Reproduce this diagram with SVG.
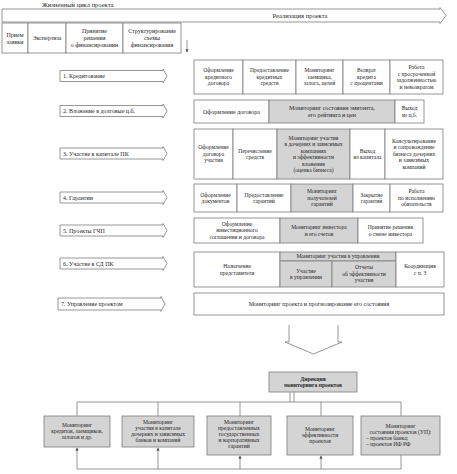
<svg xmlns="http://www.w3.org/2000/svg" width="457" height="474" viewBox="0 0 457 474">
<defs>
<style>
.bx{fill:#fff;stroke:#7c7c7c;stroke-width:0.8}
.gy{fill:#d4d4d4;stroke:#7c7c7c;stroke-width:0.8}
.ar{fill:#fff;stroke:#7c7c7c;stroke-width:0.8}
.ln{fill:none;stroke:#7c7c7c;stroke-width:0.8}
text{font-family:"Liberation Serif","Times New Roman",serif;fill:#262626}
.t{font-size:5.6px;text-anchor:middle}
.m{font-size:6px;text-anchor:middle}
.l{font-size:6px}
.h{font-size:6.5px}
.bd{font-size:5.6px;text-anchor:middle;font-weight:bold}
</style>
<marker id="ah" viewBox="0 0 6 6" refX="5" refY="3" markerWidth="4" markerHeight="4" orient="auto">
<path d="M0,0 L6,3 L0,6 Z" fill="#555"/>
</marker>
</defs>
<rect width="457" height="474" fill="#fff"/>

<g id="lifecycle">
<text class="h" x="42" y="7">Жизненный цикл проекта</text>
<polygon class="ar" points="2,9 440,9 440,7.5 446,15.5 440,23.5 440,22 2,22"/>
<text class="h" x="300" y="17.5" text-anchor="middle">Реализация проекта</text>
</g>

<g id="stages">
<rect class="bx" x="2" y="23" width="26" height="30"/>
<text class="m" x="15" y="36.6"><tspan x="15">Прием</tspan><tspan x="15" dy="7">заявки</tspan></text>
<rect class="bx" x="28" y="23" width="38" height="30"/>
<text class="m" x="47" y="40.1">Экспертиза</text>
<rect class="bx" x="66" y="23" width="57" height="30"/>
<text class="m" x="94.5" y="33.1"><tspan x="94.5">Принятие</tspan><tspan x="94.5" dy="7">решения</tspan><tspan x="94.5" dy="7">о финансировании</tspan></text>
<rect class="bx" x="123" y="23" width="58" height="30"/>
<text class="m" x="152" y="33.1"><tspan x="152">Структурирование</tspan><tspan x="152" dy="7">схемы</tspan><tspan x="152" dy="7">финансирования</tspan></text>
</g>

<g id="connectors">
<line class="ln" x1="187" y1="40" x2="187" y2="52" marker-end="url(#ah)"/>
<polyline class="ln" points="289,325 289,342 285,342 313.5,354 342,342 338,342 338,325"/>
<line class="ln" x1="290" y1="392" x2="290" y2="402"/>
<line class="ln" x1="294" y1="392" x2="294" y2="402"/>
<line class="ln" x1="77" y1="402" x2="401" y2="402"/>
<line class="ln" x1="77" y1="402" x2="77" y2="416"/>
<line class="ln" x1="158" y1="402" x2="158" y2="416"/>
<line class="ln" x1="240" y1="402" x2="240" y2="416"/>
<line class="ln" x1="321" y1="402" x2="321" y2="416"/>
<line class="ln" x1="401" y1="402" x2="401" y2="416"/>
<line class="ln" x1="77" y1="469" x2="401" y2="469"/>
<line class="ln" x1="77" y1="469" x2="77" y2="448" marker-end="url(#ah)"/>
<line class="ln" x1="158" y1="469" x2="158" y2="448" marker-end="url(#ah)"/>
<line class="ln" x1="240" y1="469" x2="240" y2="456" marker-end="url(#ah)"/>
<line class="ln" x1="321" y1="469" x2="321" y2="456" marker-end="url(#ah)"/>
<line class="ln" x1="401" y1="469" x2="401" y2="455"/>
</g>

<g id="row1">
<polygon class="ar" points="60,70.5 163,70.5 163,69 167,76 163,83 163,81.5 60,81.5"/>
<text class="l" x="63" y="78.1">1. Кредитование</text>
<rect class="bx" x="194" y="60" width="49" height="34"/>
<text class="t" x="218.5" y="72.4"><tspan x="218.5">Оформление</tspan><tspan x="218.5" dy="6.5">кредитного</tspan><tspan x="218.5" dy="6.5">договора</tspan></text>
<rect class="bx" x="243" y="60" width="53" height="34"/>
<text class="t" x="269.5" y="72.4"><tspan x="269.5">Предоставление</tspan><tspan x="269.5" dy="6.5">кредитных</tspan><tspan x="269.5" dy="6.5">средств</tspan></text>
<rect class="bx" x="296" y="60" width="47" height="34"/>
<text class="t" x="319.5" y="72.4"><tspan x="319.5">Мониторинг</tspan><tspan x="319.5" dy="6.5">заемщика,</tspan><tspan x="319.5" dy="6.5">залога, целей</tspan></text>
<rect class="bx" x="343" y="60" width="47" height="34"/>
<text class="t" x="366.5" y="72.4"><tspan x="366.5">Возврат</tspan><tspan x="366.5" dy="6.5">кредита</tspan><tspan x="366.5" dy="6.5">с процентами</tspan></text>
<rect class="bx" x="390" y="60" width="53" height="34"/>
<text class="t" x="416.5" y="69.15"><tspan x="416.5">Работа</tspan><tspan x="416.5" dy="6.5">с просроченной</tspan><tspan x="416.5" dy="6.5">задолженностью</tspan><tspan x="416.5" dy="6.5">и невозвратом</tspan></text>
</g>

<g id="row2">
<polygon class="ar" points="60,105.5 163,105.5 163,104 167,111 163,118 163,116.5 60,116.5"/>
<text class="l" x="63" y="113.1">2. Вложение в долговые ц.б.</text>
<rect class="bx" x="194" y="100" width="75" height="23"/>
<text class="m" x="231.5" y="113.6">Оформление договора</text>
<rect class="gy" x="269" y="100" width="126" height="23"/>
<text class="m" x="332" y="110.4"><tspan x="332">Мониторинг состояния эмитента,</tspan><tspan x="332" dy="6.5">его рейтинга и цен</tspan></text>
<rect class="bx" x="395" y="100" width="29" height="23"/>
<text class="t" x="409.5" y="110.4"><tspan x="409.5">Выход</tspan><tspan x="409.5" dy="6.5">из ц.б.</tspan></text>
</g>

<g id="row3">
<polygon class="ar" points="60,148 163,148 163,146.5 167,153.5 163,160.5 163,159 60,159"/>
<text class="l" x="63" y="155.6">3. Участие в капитале ПК</text>
<rect class="bx" x="194" y="129" width="39" height="50"/>
<text class="t" x="213.5" y="149.4"><tspan x="213.5">Оформление</tspan><tspan x="213.5" dy="6.5">договора</tspan><tspan x="213.5" dy="6.5">участия</tspan></text>
<rect class="bx" x="233" y="129" width="44" height="50"/>
<text class="t" x="255" y="152.65"><tspan x="255">Перечисление</tspan><tspan x="255" dy="6.5">средств</tspan></text>
<rect class="gy" x="277" y="129" width="73" height="50"/>
<text class="t" x="313.5" y="139.65"><tspan x="313.5">Мониторинг участия</tspan><tspan x="313.5" dy="6.5">в дочерних и зависимых</tspan><tspan x="313.5" dy="6.5">компаниях</tspan><tspan x="313.5" dy="6.5">и эффективности</tspan><tspan x="313.5" dy="6.5">вложения</tspan><tspan x="313.5" dy="6.5">(оценка бизнеса)</tspan></text>
<rect class="bx" x="350" y="129" width="35" height="50"/>
<text class="t" x="367.5" y="152.65"><tspan x="367.5">Выход</tspan><tspan x="367.5" dy="6.5">из капитала</tspan></text>
<rect class="bx" x="385" y="129" width="58" height="50"/>
<text class="t" x="414" y="142.9"><tspan x="414">Консультирование</tspan><tspan x="414" dy="6.5">и сопровождение</tspan><tspan x="414" dy="6.5">бизнеса дочерних</tspan><tspan x="414" dy="6.5">и зависимых</tspan><tspan x="414" dy="6.5">компаний</tspan></text>
</g>

<g id="row4">
<polygon class="ar" points="60,192 163,192 163,190.5 167,197.5 163,204.5 163,203 60,203"/>
<text class="l" x="63" y="199.6">4. Гарантии</text>
<rect class="bx" x="194" y="184" width="43" height="28"/>
<text class="t" x="215.5" y="196.65"><tspan x="215.5">Оформление</tspan><tspan x="215.5" dy="6.5">документов</tspan></text>
<rect class="bx" x="237" y="184" width="54" height="28"/>
<text class="t" x="264" y="196.65"><tspan x="264">Предоставление</tspan><tspan x="264" dy="6.5">гарантий</tspan></text>
<rect class="gy" x="291" y="184" width="62" height="28"/>
<text class="t" x="322" y="193.4"><tspan x="322">Мониторинг</tspan><tspan x="322" dy="6.5">получателей</tspan><tspan x="322" dy="6.5">гарантий</tspan></text>
<rect class="bx" x="353" y="184" width="37" height="28"/>
<text class="t" x="371.5" y="196.65"><tspan x="371.5">Закрытие</tspan><tspan x="371.5" dy="6.5">гарантий</tspan></text>
<rect class="bx" x="390" y="184" width="53" height="28"/>
<text class="t" x="416.5" y="193.4"><tspan x="416.5">Работа</tspan><tspan x="416.5" dy="6.5">по исполнению</tspan><tspan x="416.5" dy="6.5">обязательств</tspan></text>
</g>

<g id="row5">
<polygon class="ar" points="60,225 163,225 163,223.5 167,230.5 163,237.5 163,236 60,236"/>
<text class="l" x="63" y="232.6">5. Проекты ГЧП</text>
<rect class="bx" x="194" y="218" width="86" height="25"/>
<text class="t" x="237" y="225.9"><tspan x="237">Оформление</tspan><tspan x="237" dy="6.5">инвестиционного</tspan><tspan x="237" dy="6.5">соглашения и договора</tspan></text>
<rect class="gy" x="280" y="218" width="78" height="25"/>
<text class="t" x="319" y="229.15"><tspan x="319">Мониторинг инвестора</tspan><tspan x="319" dy="6.5">и его счетов</tspan></text>
<rect class="bx" x="358" y="218" width="65" height="25"/>
<text class="t" x="390.5" y="229.15"><tspan x="390.5">Принятие решения</tspan><tspan x="390.5" dy="6.5">о смене инвестора</tspan></text>
</g>

<g id="row6">
<polygon class="ar" points="60,258 163,258 163,256.5 167,263.5 163,270.5 163,269 60,269"/>
<text class="l" x="63" y="265.6">6. Участие в СД ПК</text>
<rect class="bx" x="194" y="252" width="86" height="35"/>
<text class="t" x="237" y="268.15"><tspan x="237">Назначение</tspan><tspan x="237" dy="6.5">представителя</tspan></text>
<rect class="gy" x="280" y="252" width="116" height="9"/>
<text class="t" x="338" y="258.4">Мониторинг участия в управлении</text>
<rect class="gy" x="280" y="261" width="52" height="26"/>
<text class="t" x="306" y="272.65"><tspan x="306">Участие</tspan><tspan x="306" dy="6.5">в управлении</tspan></text>
<rect class="gy" x="332" y="261" width="64" height="26"/>
<text class="t" x="364" y="269.4"><tspan x="364">Отчеты</tspan><tspan x="364" dy="6.5">об эффективности</tspan><tspan x="364" dy="6.5">участия</tspan></text>
<rect class="bx" x="396" y="252" width="48" height="35"/>
<text class="t" x="420" y="268.15"><tspan x="420">Координация</tspan><tspan x="420" dy="6.5">с п. 3</tspan></text>
</g>

<g id="row7">
<polygon class="ar" points="58,298 161,298 161,296.5 165,304 161,311.5 161,310 58,310"/>
<text class="l" x="61" y="306.1">7. Управление проектом</text>
<rect class="bx" x="194" y="293" width="250" height="22"/>
<text class="m" x="319" y="306.1">Мониторинг проекта и прогнозирование его состояния</text>
</g>

<g id="directorate">
<rect class="gy" x="269" y="372" width="88" height="20"/>
<text class="bd" x="313" y="380.65"><tspan x="313">Дирекция</tspan><tspan x="313" dy="6.5">мониторинга проектов</tspan></text>
</g>

<g id="mon1">
<rect class="gy" x="44" y="416" width="66" height="31"/>
<text class="t" x="77" y="427.4"><tspan x="77">Мониторинг</tspan><tspan x="77" dy="6">кредитов, заемщиков,</tspan><tspan x="77" dy="6">залогов и др.</tspan></text>
</g>
<g id="mon2">
<rect class="gy" x="122" y="416" width="72" height="31"/>
<text class="t" x="158" y="424.4"><tspan x="158">Мониторинг</tspan><tspan x="158" dy="6">участия в капитале</tspan><tspan x="158" dy="6">дочерних и зависимых</tspan><tspan x="158" dy="6">банков и компаний</tspan></text>
</g>
<g id="mon3">
<rect class="gy" x="207" y="416" width="64" height="39"/>
<text class="t" x="239" y="423.5"><tspan x="239">Мониторинг</tspan><tspan x="239" dy="6">предоставленных</tspan><tspan x="239" dy="6">государственных</tspan><tspan x="239" dy="6">и корпоративных</tspan><tspan x="239" dy="6">гарантий</tspan></text>
</g>
<g id="mon4">
<rect class="gy" x="287" y="416" width="66" height="39"/>
<text class="t" x="320" y="431.4"><tspan x="320">Мониторинг</tspan><tspan x="320" dy="6">эффективности</tspan><tspan x="320" dy="6">проектов</tspan></text>
</g>
<g id="mon5">
<rect class="gy" x="361" y="416" width="79" height="39"/>
<text class="t" x="400.5" y="428.4"><tspan x="400.5">Мониторинг</tspan><tspan x="400.5" dy="6">состояния проектов (УП):</tspan></text>
<text class="t" x="366" y="440.4" style="text-anchor:start"><tspan x="366">– проектов банка;</tspan><tspan x="366" dy="6">– проектов ИФ РФ</tspan></text>
</g>
</svg>
